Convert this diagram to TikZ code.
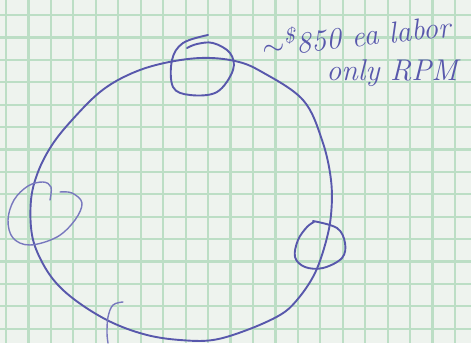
\documentclass[tikz,border=0pt]{standalone}
\usepackage{xcolor}
\usepackage{tikz}
\usetikzlibrary{positioning}
\definecolor{paper}{RGB}{238,243,238}
\definecolor{gridgreen}{RGB}{188,222,197}
\definecolor{ink}{RGB}{88,88,172}
\definecolor{inklight}{RGB}{120,120,190}
\tikzset{
  gridline/.style = {draw=gridgreen, line width=1.1pt},
  pen/.style      = {draw=ink, line width=0.95pt, line cap=round, line join=round},
  faintpen/.style = {draw=inklight, line width=0.7pt, line cap=round},
  note/.style     = {text=ink, font=\itshape\fontsize{15}{14}\selectfont,
                     inner sep=0pt},
}

\begin{document}
\begin{tikzpicture}[x=0.5pt, y=-0.5pt]
  \useasboundingbox (0,0) rectangle (471,343);
  \fill[paper] (0,0) rectangle (471,343);

  % graph paper
  \foreach \k in {0,...,20}
    \draw[gridline] ({6+22.45*\k},0) -- ({6+22.45*\k},343);
  \foreach \k in {0,...,14}
    \draw[gridline] (0,{15+22.4*\k}) -- (471,{15+22.4*\k});

  % big circle
  \draw[pen] plot[smooth cycle, tension=0.6] coordinates {
    (160,64) (200,58) (235,61) (262,72) (303,100) (322,140) (331,180)
    (331,215) (325,245) (314,275) (297,300) (280,315) (247,330) (213,340)
    (180,340) (147,335) (113,323) (82,305) (58,285) (42,262) (32,235)
    (31,200) (38,172) (52,145) (72,120) (100,92) (128,75)};

  % small loops
  \draw[pen] plot[smooth, tension=0.6] coordinates {
    (208,35) (183,43) (172,60) (173,87) (190,95) (217,92) (233,70)
    (230,53) (213,43) (197,44) (187,48)};
  \draw[faintpen] plot[smooth, tension=0.6] coordinates {
    (50,200) (51,187) (43,182) (28,186) (14,200) (8,220) (13,238)
    (30,245) (57,237) (75,220) (82,203) (72,193) (60,192)};
  \draw[pen] plot[smooth, tension=0.6] coordinates {
    (313,221) (337,228) (345,243) (342,258) (323,268) (305,267)
    (295,257) (298,240) (307,227) (314,222)};
  \draw[faintpen] plot[smooth, tension=0.6] coordinates {
    (123,302) (113,305) (108,317) (107,333) (108,343)};

  % price note
  \node[note, rotate=6] (price) at (356,34)
    {{\Large$\sim$}\textsuperscript{\$}850 ea labor};
  \node[note] (scope) at (392,73) {only RPM};
\end{tikzpicture}
\end{document}
